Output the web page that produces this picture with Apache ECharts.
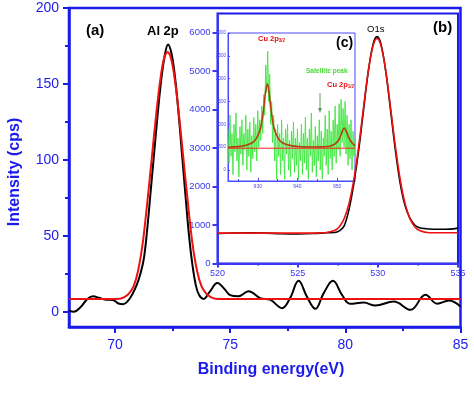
<!DOCTYPE html>
<html><head><meta charset="utf-8">
<script src="https://cdn.jsdelivr.net/npm/echarts@6/dist/echarts.min.js"></script>
<style>html,body{margin:0;padding:0;background:#fff}#c{width:474px;height:394px}</style>
</head><body><div id="c"></div>
<script>
// ---- Main panel (Al 2p) ----
const alBE = [68.0,68.2,68.5,68.8,69.05,69.3,69.6,69.9,70.15,70.35,70.55,70.75,70.95,71.1,71.25,71.4,71.55,71.7,71.85,72.0,72.15,72.3,72.45,72.6,72.75,72.9,73.05,73.2,73.35,73.5,73.65,73.85,74.1,74.45,74.75,75.0,75.35,75.8,76.3,76.75,77.25,77.6,77.97,78.33,78.7,79.06,79.46,79.86,80.2,80.8,81.3,82.1,82.83,83.48,83.99,84.5,85.0];
const alCounts = [1,0,3,8.5,10.2,9.2,8,7.8,5.5,5,7,11.5,18,25,35,55,80,105,130,152,168,176,170,155,132,105,78,52,32,18,11,8.5,13,19,15,11,10.2,13.5,9,7.8,2.4,9,20.4,10,2,12.3,20.4,11,5.3,6.1,4.1,6.8,1.3,11.2,5.3,7.4,3.5];
const alFitBE = [68,69,70.2,70.4,70.6,70.8,71.0,71.2,71.4,71.6,71.8,72.0,72.15,72.28,72.41,72.56,72.76,72.96,73.16,73.36,73.56,73.76,73.96,74.16,74.36,74.7,85];
const alFit = [8.4,8.4,8.6,9.6,12,16.5,27,45,72,102,132,156.6,168,171,168,156.6,132,102,72,45,27,16.5,12,9.6,8.6,8.4,8.4];
const mainXTicks = [70,75,80,85];
const mainYTicks = [0,50,100,150,200];

// ---- Inset (b): O1s ----
const o1sBE = [520,521,522,523,524,525,526,526.8,527.3,527.6,527.9,528.2,528.5,528.8,529.1,529.4,529.7,529.95,530.2,530.5,530.8,531.1,531.4,531.7,532.0,532.3,532.6,533.0,533.8,534.5,535];
const o1sCounts = [780,790,800,790,775,770,780,800,805,850,980,1400,2071,2931,3964,4977,5696,5900,5696,4977,3964,2931,2071,1500,1180,1000,930,905,890,895,920];
const o1sFitBE = [520,526,526.7,527.3,527.6,527.9,528.2,528.5,528.8,529.1,529.4,529.7,529.95,530.2,530.5,530.8,531.1,531.4,531.7,532.0,532.3,532.6,533.2,535];
const o1sFit = [790,790,800,856,957,1168,1554,2171,3027,4030,4990,5658,5850,5658,4990,4030,3027,2171,1554,1168,957,856,800,800];
const o1sXTicks = [520,525,530,535];
const o1sYTicks = [0,1000,2000,3000,4000,5000,6000];

// ---- Inset (c): Cu 2p ----
const cuStartBE = 922.5, cuStepBE = 0.25;
const cuRaw = [900,150,1200,300,800,-100,1000,400,1250,200,700,-150,950,350,1100,100,800,450,1200,0,
 900,300,1050,-50,750,250,1150,400,1000,200,1300,500,1100,650,1400,800,1650,1200,2300,1700,
 2600,1500,2100,1000,1500,600,1200,200,900,-200,1000,300,800,-100,1100,200,700,-200,900,350,
 1000,0,650,-150,850,250,1050,-50,700,100,900,-200,600,200,1000,-100,800,150,1150,0,
 700,-200,900,300,1250,-50,650,100,950,-150,750,200,1100,0,850,-200,700,300,1200,100,
 900,-100,1300,250,850,0,1100,300,1400,150,1000,450,1450,300,1550,600,1350,500,1500,350,
 1200,100,1000,250,1100,0,850,300,700];
const cuFitBE = [922.5,925,927,928.5,929.5,930.5,931,931.5,932,932.4,932.8,933.3,933.8,934.3,935.3,936.3,938,940,942,944,946,947.5,948.5,949.5,950.3,950.8,951.3,951.8,952.3,952.8,953.3,954,954.5];
const cuFit = [499,513,541,593,672,858,1048,1354,1738,1890,1738,1354,1048,858,672,593,540,516,506,503,506,517,534,573,646,733,850,919,850,733,646,570,530];
const cuBaseBE = [922.5,954.5];
const cuBase = [478,478];
const cuXTicks = [930,940,950];
const cuYTicks = [0,500,1000,1500,2000,2500,3000];

const zip = (a,b) => a.map((v,i)=>[v,b[i]]);
const cuRawPts = cuRaw.map((v,i)=>[cuStartBE + i*cuStepBE, v]);

const FF = 'Liberation Sans, Arial, Helvetica, sans-serif';
const blue = '#1b1bea';
const blue2 = '#3838f0';
const blue3 = '#4a4aff';

function axisCommon(color, lw, ticks, fs, margin, tickLen, inside, minor) {
  return {
    axisLine:{show:true,onZero:false,lineStyle:{color:color,width:lw}},
    axisTick:{show:true,inside:inside,length:tickLen,customValues:ticks,lineStyle:{color:color,width:Math.min(lw,2)}},
    minorTick:{show:!!minor,splitNumber:2,length:Math.max(2,tickLen-2),lineStyle:{color:color,width:Math.min(lw,2)}},
    axisLabel:{customValues:ticks,formatter:function(v){return String(v);},color:color,fontSize:fs,fontFamily:FF,margin:margin,showMinLabel:true,showMaxLabel:true},
    splitLine:{show:false}
  };
}

const chart = echarts.init(document.getElementById('c'), null, {renderer:'canvas'});
chart.setOption({
  animation:false,
  backgroundColor:'#ffffff',
  grid:[
    {left:69,top:8,width:391.5,height:319,show:true,borderColor:blue,borderWidth:2.5},
    {left:217.5,top:13.5,width:240.5,height:250,show:true,borderColor:blue,borderWidth:2},
    {left:228,top:33,width:127,height:148,show:true,borderColor:blue3,borderWidth:1}
  ],
  xAxis:[
    Object.assign({gridIndex:0,type:'value',min:68,max:85,splitNumber:4}, axisCommon(blue,2.5,mainXTicks,14,11,6,false,true)),
    Object.assign({gridIndex:1,type:'value',min:520,max:535,splitNumber:3}, axisCommon(blue2,2,o1sXTicks,9,6,4,false,true)),
    Object.assign({gridIndex:2,type:'value',min:922.5,max:954.5,splitNumber:3}, axisCommon(blue3,1,cuXTicks,5,3,3,true,true))
  ],
  yAxis:[
    Object.assign({gridIndex:0,type:'value',min:-10,max:200,splitNumber:4}, axisCommon(blue,2.5,mainYTicks,14,10,6,false,true)),
    Object.assign({gridIndex:1,type:'value',min:0,max:6500,splitNumber:6}, axisCommon(blue2,2,o1sYTicks,9.5,7,5,false,false)),
    Object.assign({gridIndex:2,type:'value',min:-240,max:3000,splitNumber:6}, axisCommon(blue3,1,cuYTicks,4.5,2,2,true,false))
  ],
  series:[
    {type:'line',xAxisIndex:0,yAxisIndex:0,data:zip(alBE,alCounts),symbol:'none',smooth:0.4,lineStyle:{color:'#000',width:2},z:3},
    {type:'line',xAxisIndex:0,yAxisIndex:0,data:zip(alFitBE,alFit),symbol:'none',smooth:0.3,lineStyle:{color:'#ee1111',width:2},z:4},
    {type:'line',xAxisIndex:1,yAxisIndex:1,data:zip(o1sBE,o1sCounts),symbol:'none',smooth:0.35,lineStyle:{color:'#000',width:1.6},z:3},
    {type:'line',xAxisIndex:1,yAxisIndex:1,data:zip(o1sFitBE,o1sFit),symbol:'none',smooth:0.35,lineStyle:{color:'#ee1111',width:1.6},z:4},
    {type:'line',xAxisIndex:2,yAxisIndex:2,data:cuRawPts,symbol:'none',lineStyle:{color:'#3ee63e',width:0.9},z:5},
    {type:'line',xAxisIndex:2,yAxisIndex:2,data:zip(cuBaseBE,cuBase),symbol:'none',lineStyle:{color:'#ff2020',width:1},z:6},
    {type:'line',xAxisIndex:2,yAxisIndex:2,data:zip(cuFitBE,cuFit),symbol:'none',smooth:0.35,lineStyle:{color:'#b4400f',width:1.6},z:7}
  ],
  graphic:[
    {type:'text',z:100,style:{x:15,y:172,text:'Intensity (cps)',font:'bold 16px '+FF,fill:blue,align:'center',verticalAlign:'middle'},rotation:Math.PI/2,originX:15,originY:172},
    {type:'text',z:100,style:{x:271,y:370,text:'Binding energy(eV)',font:'bold 16px '+FF,fill:blue,align:'center',verticalAlign:'middle'}},
    {type:'text',z:100,style:{x:86,y:31,text:'(a)',font:'bold 15px '+FF,fill:'#000',verticalAlign:'middle'}},
    {type:'text',z:100,style:{x:147,y:31,text:'Al 2p',font:'bold 13px '+FF,fill:'#000',verticalAlign:'middle'}},
    {type:'text',z:100,style:{x:433,y:28,text:'(b)',font:'bold 15px '+FF,fill:'#000',verticalAlign:'middle'}},
    {type:'text',z:100,style:{x:367,y:29,text:'O1s',font:'9.5px '+FF,fill:'#000',verticalAlign:'middle'}},
    {type:'text',z:100,style:{x:336,y:43,text:'(c)',font:'bold 14px '+FF,fill:'#000',verticalAlign:'middle'}},
    {type:'text',z:100,style:{x:258,y:39,text:'{a|Cu 2p}{b|3/2}',rich:{a:{fontSize:7.5,fontWeight:'bold',fontFamily:FF,fill:'#e01010',color:'#e01010'},b:{fontSize:4.5,fontWeight:'bold',fontFamily:FF,fill:'#e01010',color:'#e01010',padding:[4,0,0,0]}},verticalAlign:'middle'}},
    {type:'text',z:100,style:{x:306,y:71,text:'Satellite peak',font:'bold 6.5px '+FF,fill:'#44dd33',verticalAlign:'middle'}},
    {type:'text',z:100,style:{x:327,y:85,text:'{a|Cu 2p}{b|1/2}',rich:{a:{fontSize:7.5,fontWeight:'bold',fontFamily:FF,fill:'#e01010',color:'#e01010'},b:{fontSize:4.5,fontWeight:'bold',fontFamily:FF,fill:'#e01010',color:'#e01010',padding:[4,0,0,0]}},verticalAlign:'middle'}},
    {type:'line',z:100,shape:{x1:320,y1:93,x2:320,y2:109},style:{stroke:'#669966',lineWidth:1}},
    {type:'polygon',z:100,shape:{points:[[318,108],[322,108],[320,113]]},style:{fill:'#669966'}}
  ]
});
</script></body></html>
